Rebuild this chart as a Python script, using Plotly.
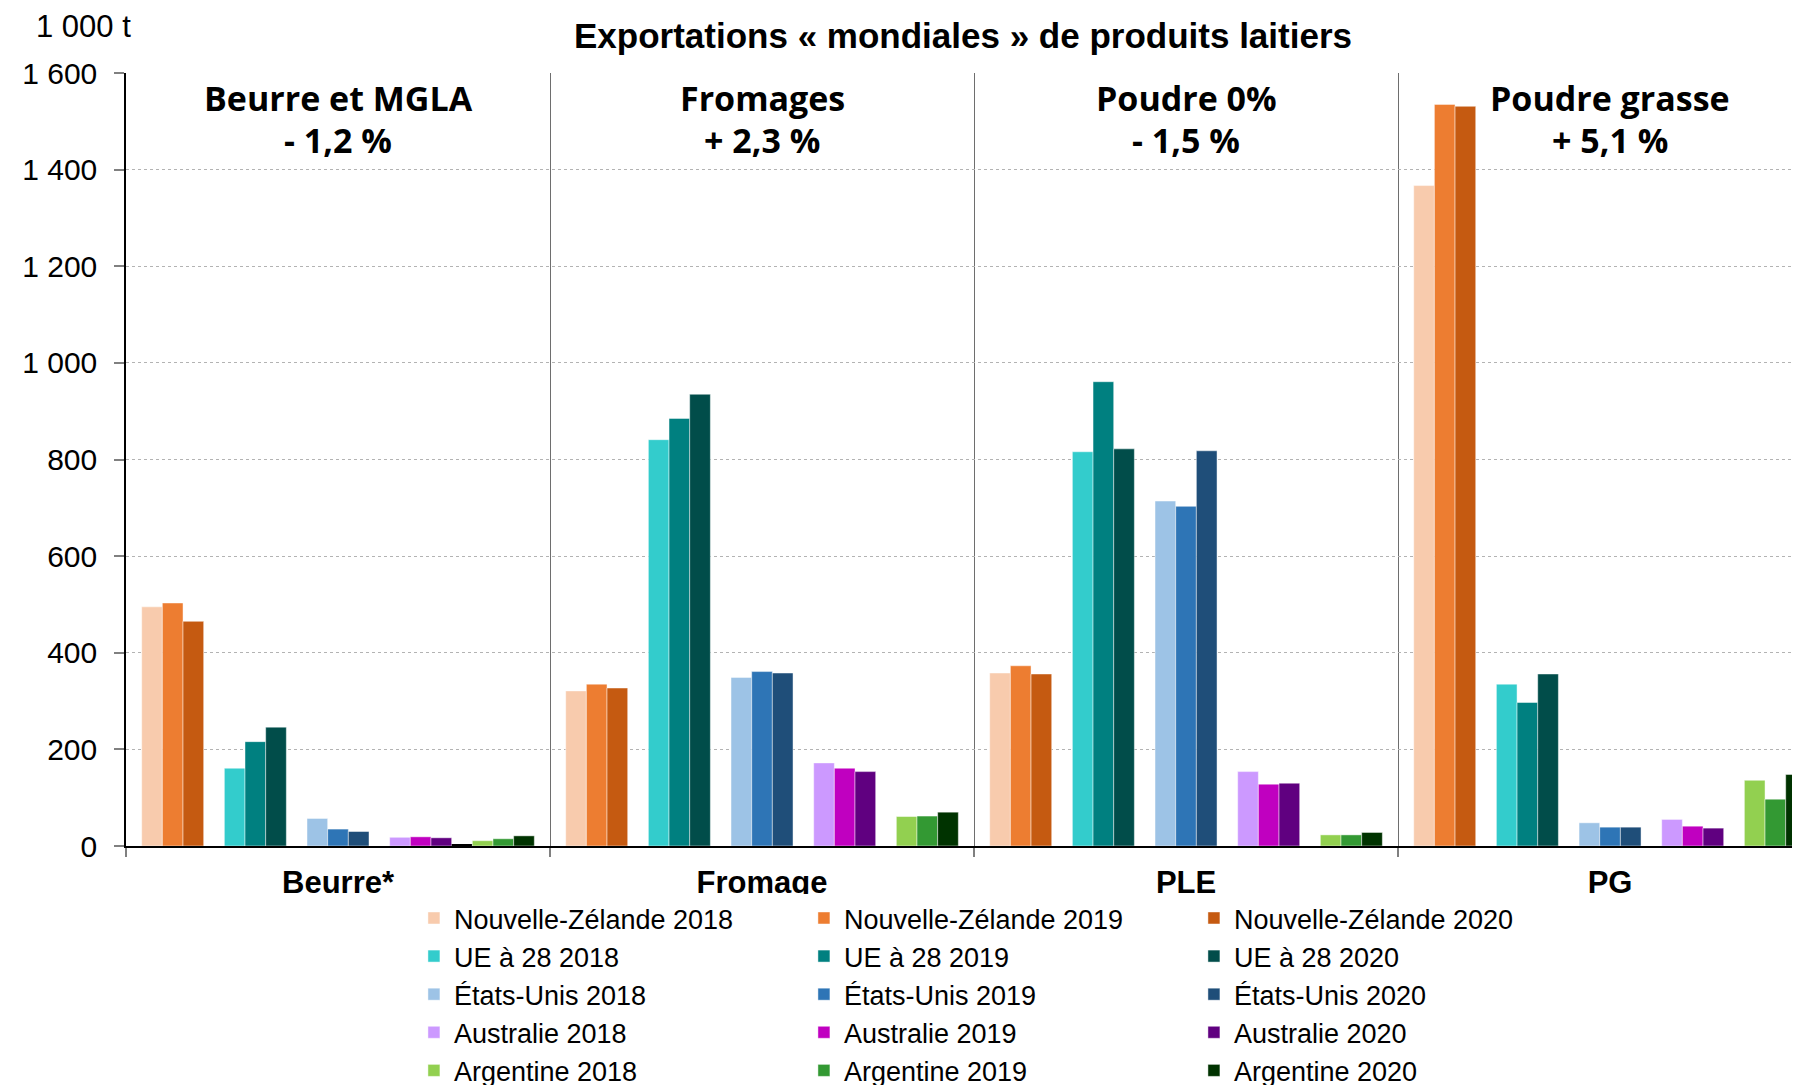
import plotly.graph_objects as go

# Exportations "mondiales" de produits laitiers (1 000 t)
products = ["Beurre*", "Fromage", "PLE", "PG"]
panel_titles = ["Beurre et MGLA", "Fromages", "Poudre 0%", "Poudre grasse"]
panel_changes = ["- 1,2 %", "+ 2,3 %", "- 1,5 %", "+ 5,1 %"]
years = ["2018", "2019", "2020"]
countries = ["Nouvelle-Zélande", "UE à 28", "États-Unis", "Australie", "Argentine"]

nz_2018 = [495, 321, 358, 1367]
nz_2019 = [503, 335, 373, 1535]
nz_2020 = [465, 327, 356, 1531]
ue_2018 = [161, 841, 816, 335]
ue_2019 = [216, 885, 961, 297]
ue_2020 = [246, 935, 822, 356]
us_2018 = [57, 349, 714, 48]
us_2019 = [35, 361, 703, 39]
us_2020 = [30, 358, 818, 39]
au_2018 = [18, 172, 154, 55]
au_2019 = [19, 161, 128, 41]
au_2020 = [17, 154, 130, 37]
ar_2018 = [11, 61, 23, 136]
ar_2019 = [15, 62, 23, 97]
ar_2020 = [21, 70, 28, 148]
# small unlabelled black bar between Australia and Argentina (butter only)
other = [4, 0, 0, 0]
blank = [0, 0, 0, 0]

series = [
    [nz_2018, nz_2019, nz_2020],
    [ue_2018, ue_2019, ue_2020],
    [us_2018, us_2019, us_2020],
    [au_2018, au_2019, au_2020],
    [ar_2018, ar_2019, ar_2020],
]
colors = [
    ["#F8CBAD", "#ED7D31", "#C55A11"],
    ["#33CCCC", "#008080", "#014D4A"],
    ["#9DC3E6", "#2E75B6", "#1F4E79"],
    ["#CC99FF", "#C000C0", "#600080"],
    ["#92D050", "#339933", "#003300"],
]

ARIAL = "Liberation Sans, Arial, sans-serif"
HEAD = "Open Sans, sans-serif"

fig = go.Figure()

for ci, country in enumerate(countries):
    for yi, year in enumerate(years):
        fig.add_trace(go.Bar(
            x=products,
            y=series[ci][yi],
            name=f"{country} {year}",
            legendgroup=year,
            marker=dict(color=colors[ci][yi],
                        line=dict(color="rgba(255,255,255,0.45)", width=1)),
            hovertemplate=f"{country} {year}<br>%{{x}} : %{{y}}<extra></extra>",
        ))
    # empty slot between country groups
    if ci < len(countries) - 1:
        gap_values = other if ci == 3 else blank
        fig.add_trace(go.Bar(
            x=products,
            y=gap_values,
            showlegend=False,
            hoverinfo="skip",
            marker=dict(color="#000000", line=dict(width=0)),
        ))

# panel headers (two lines, placed separately)
for i, (title, change) in enumerate(zip(panel_titles, panel_changes)):
    fig.add_annotation(
        x=i, xref="x", y=0.968, yref="paper",
        text=f"<b>{title}</b>",
        showarrow=False, xanchor="center", yanchor="middle",
        font=dict(family=HEAD, size=34, color="black"),
    )
    fig.add_annotation(
        x=i, xref="x", y=0.913, yref="paper",
        text=f"<b>{change}</b>",
        showarrow=False, xanchor="center", yanchor="middle",
        font=dict(family=HEAD, size=34, color="black"),
    )

fig.add_annotation(
    x=-0.055, xref="paper", y=1.06, yref="paper",
    text="1 000 t", showarrow=False, xanchor="left", yanchor="middle",
    font=dict(family=ARIAL, size=31, color="black"),
)

fig.update_layout(
    width=1800,
    height=1085,
    barmode="group",
    bargap=0.074,
    bargroupgap=0,
    separators=", ",
    plot_bgcolor="white",
    paper_bgcolor="white",
    title=dict(
        text="<b>Exportations « mondiales » de produits laitiers</b>",
        x=0.5, xref="paper", xanchor="center",
        y=0.974, yanchor="middle",
        font=dict(family=ARIAL, size=35, color="black"),
    ),
    xaxis=dict(
        type="category",
        range=[-0.5, 3.448],
        tickson="boundaries",
        ticks="outside",
        ticklen=9,
        tickcolor="#808080",
        tickwidth=1.5,
        ticklabelstandoff=8,
        showgrid=True,
        gridcolor="#6e6e6e",
        gridwidth=1.4,
        showline=True,
        linecolor="black",
        linewidth=1.5,
        tickfont=dict(family=ARIAL, size=31, color="black", weight="bold"),
        fixedrange=True,
    ),
    yaxis=dict(
        range=[0, 1600],
        dtick=200,
        tickformat=",d",
        ticks="outside",
        ticklen=10,
        tickcolor="#808080",
        tickwidth=1.5,
        ticklabelstandoff=11,
        showgrid=True,
        gridcolor="#b3b3b3",
        gridwidth=1,
        griddash="dot",
        zeroline=False,
        showline=True,
        linecolor="black",
        linewidth=1.5,
        tickfont=dict(family=ARIAL, size=30, color="black"),
        fixedrange=True,
    ),
    showlegend=True,
    legend=dict(
        orientation="h",
        traceorder="grouped",
        x=0.172, xanchor="left",
        y=-0.062, yanchor="top",
        entrywidth=345,
        entrywidthmode="pixels",
        tracegroupgap=0,
        bgcolor="white",
        font=dict(family=ARIAL, size=27, color="black"),
    ),
    # the page adds an 8 px body margin, so the plot box is shifted to match
    margin=dict(l=118, r=8, t=65, b=247, autoexpand=False),
)

fig.write_html("out.html")
